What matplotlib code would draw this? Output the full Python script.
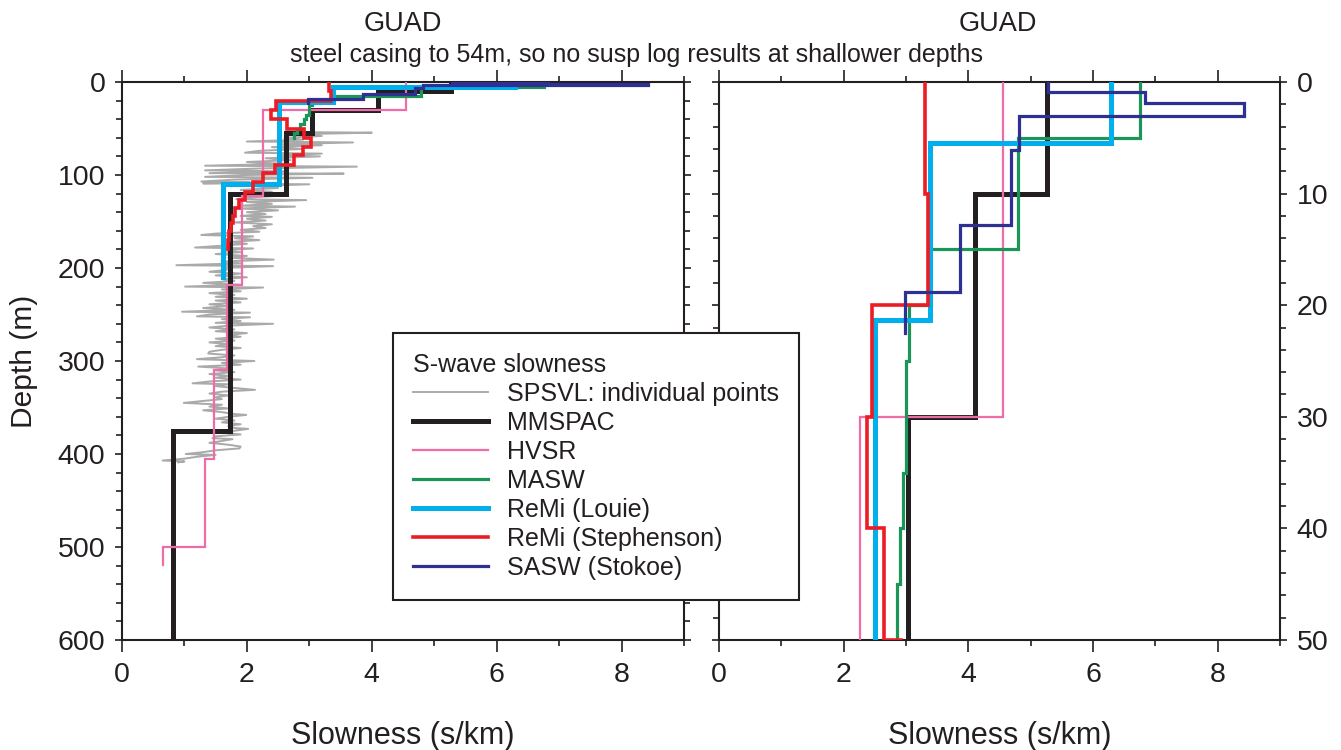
import matplotlib
matplotlib.use('Agg')
import matplotlib.pyplot as plt
from matplotlib.ticker import MultipleLocator

plt.rcParams['font.family'] = ['Liberation Sans', 'DejaVu Sans']

# layered profiles: layer top depths (m), slowness (s/km), bottom of last layer
mmspac_top = [0, 10, 30, 55, 120, 375]
mmspac_s = [5.27, 4.10, 3.04, 2.63, 1.73, 0.82]
mmspac_bot = 600

hvsr_top = [0, 30, 123, 218, 310, 405, 500]
hvsr_s = [4.55, 2.26, 1.92, 1.68, 1.48, 1.33, 0.66]
hvsr_bot = 519

masw_top = [0, 5, 15, 20, 25, 35, 40, 45, 50, 55]
masw_s = [6.76, 4.79, 3.36, 3.05, 3.00, 2.95, 2.91, 2.85, 2.80, 2.76]
masw_bot = 60

louie_top = [0, 5.5, 21.3, 110]
louie_s = [6.29, 3.38, 2.51, 1.62]
louie_bot = 210

steph_top = [0, 10, 20, 30, 40, 50, 60, 70, 79, 89, 98, 108, 118, 127, 136, 144, 152, 160, 170]
steph_s = [3.31, 3.35, 2.46, 2.38, 2.64, 2.92, 3.02, 2.90, 2.75, 2.45, 2.25, 2.09, 1.97,
           1.88, 1.81, 1.77, 1.74, 1.72, 1.70]
steph_bot = 180

sasw_top = [0, 0.9, 1.85, 3.04, 6.1, 12.8, 18.8]
sasw_s = [5.28, 6.83, 8.42, 4.82, 4.69, 3.86, 2.98]
sasw_bot = 22.5

# suspension log, individual points (depth m, slowness s/km)
gray_depth = [54, 54.5, 56, 58, 60, 62, 64, 65, 67, 68, 70, 72, 74, 76, 77, 79, 80, 82, 84, 86,
              88, 90, 91, 93, 95, 96, 98, 98.5, 100, 102, 103, 105, 107, 108, 109, 110, 112, 114,
              116, 118, 120, 122, 124, 126, 127, 129, 131, 133, 134, 136, 138, 140, 142, 144, 145,
              147, 149, 151, 153, 155, 157, 159, 161, 163, 164.5, 166, 168, 170, 172, 174, 176,
              178, 179, 181, 183, 185, 187, 189, 191, 193, 195, 197, 198, 200, 202, 204, 206, 208,
              210, 212, 214, 216, 218, 220, 221, 223, 225, 227, 229, 231, 233, 235, 237, 239, 241,
              243, 245, 247, 248, 250, 252, 253, 255, 257, 259, 260, 262, 264, 266, 268, 270, 272,
              274, 276, 278, 280, 282, 284, 286, 288, 290, 292, 294, 296, 298, 300, 302, 304, 306,
              308, 310, 312, 314, 316, 318, 320, 322, 324, 325, 327, 329, 331, 333, 335, 337, 339,
              341, 343, 345, 347, 349, 351, 353, 355, 357, 358, 360, 362, 364, 366, 368, 370, 372,
              373, 375, 377, 379, 381, 383, 384, 386, 388, 390, 392, 394, 396, 398, 400, 401, 403,
              405, 407, 408, 409]
gray_s = [3.05, 4.0, 2.9, 3.2, 2.6, 2.9, 2.0, 3.7, 2.5, 3.2, 2.4, 2.9, 2.2, 1.97, 3.2, 2.5, 3.17,
          2.3, 2.7, 2.0, 2.6, 1.33, 3.76, 2.2, 1.33, 2.6, 1.4, 3.55, 2.0, 1.33, 3.05, 1.8, 1.27,
          2.05, 1.3, 3.0, 2.1, 2.5, 1.9, 2.4, 2.0, 2.6, 2.1, 1.83, 2.95, 2.0, 2.4, 1.9, 2.77, 1.89,
          2.5, 2.0, 2.3, 1.9, 2.4, 2.0, 2.3, 1.8, 2.4, 2.1, 2.3, 1.9, 2.2, 1.5, 1.27, 2.1, 1.8, 2.2,
          1.7, 2.0, 1.6, 1.17, 2.1, 1.6, 1.9, 1.5, 2.0, 1.7, 2.43, 1.6, 1.9, 0.87, 2.42, 1.6, 1.68,
          1.4, 1.9, 1.5, 2.0, 1.6, 1.8, 1.3, 1.9, 1.01, 2.26, 1.6, 1.9, 1.4, 1.8, 1.5, 2.0, 1.5, 1.9,
          1.4, 1.7, 1.3, 1.8, 0.96, 2.05, 1.4, 1.2, 2.05, 1.6, 1.9, 1.5, 2.42, 1.7, 1.4, 1.8, 1.5,
          2.0, 1.7, 1.9, 1.5, 1.8, 1.4, 1.7, 1.5, 1.9, 1.6, 1.4, 1.38, 1.8, 1.6, 1.2, 2.12, 1.6, 1.9,
          1.22, 1.7, 1.5, 1.8, 1.4, 1.7, 1.5, 1.9, 1.4, 1.13, 1.7, 1.5, 1.8, 2.13, 1.6, 1.4, 1.7,
          1.5, 1.6, 1.3, 0.99, 1.6, 1.4, 1.7, 1.3, 1.6, 1.8, 1.99, 1.7, 1.5, 1.8, 1.6, 1.9, 1.7,
          1.8, 2.02, 1.8, 1.6, 1.9, 1.5, 1.45, 1.77, 1.6, 1.4, 1.7, 1.9, 1.88, 1.5, 1.3, 1.02, 1.5,
          1.2, 1.0, 0.65, 1.0, 0.9]

labels = ['SPSVL: individual points', 'MMSPAC', 'HVSR', 'MASW', 'ReMi (Louie)',
          'ReMi (Stephenson)', 'SASW (Stokoe)']
colors = ['#aaaaaa', '#231f20', '#f06ca8', '#1b9658', '#00b0ec', '#ed1c24', '#2e3192']
widths = [1.4, 3.6, 1.6, 2.3, 3.6, 2.6, 2.3]


def steps(tops, slow, bottom):
    bots = list(tops[1:]) + [bottom]
    x, y = [], []
    for t, b, s in zip(tops, bots, slow):
        x += [s, s]
        y += [t, b]
    return x, y


profiles = [(mmspac_top, mmspac_s, mmspac_bot), (hvsr_top, hvsr_s, hvsr_bot),
            (masw_top, masw_s, masw_bot), (louie_top, louie_s, louie_bot),
            (steph_top, steph_s, steph_bot), (sasw_top, sasw_s, sasw_bot)]

ink = '#231f20'
fig = plt.figure(figsize=(13.41, 7.5), dpi=100)
ax1 = fig.add_axes([122 / 1341, 110 / 750, 562 / 1341, 558 / 750])
ax2 = fig.add_axes([719 / 1341, 110 / 750, 561 / 1341, 558 / 750])

handles = []
for ax in (ax1, ax2):
    h, = ax.plot(gray_s, gray_depth, color=colors[0], lw=widths[0], zorder=2)
    hs = [h]
    for i, (tops, slow, bot) in enumerate(profiles):
        x, y = steps(tops, slow, bot)
        h, = ax.plot(x, y, color=colors[i + 1], lw=widths[i + 1], zorder=3 + i,
                     solid_joinstyle='miter')
        hs.append(h)
    if not handles:
        handles = hs
    ax.set_xlim(0, 9)
    ax.xaxis.set_major_locator(MultipleLocator(2))
    ax.xaxis.set_minor_locator(MultipleLocator(1))
    ax.tick_params(which='both', direction='out', top=True, right=True, width=1.2,
                   color=ink, labelsize=20.5, labelcolor=ink)
    ax.tick_params(axis='x', which='major', length=8.5, pad=7)
    ax.tick_params(axis='x', which='minor', length=4.5)
    ax.tick_params(axis='y', which='major', length=5, pad=7)
    ax.tick_params(axis='y', which='minor', length=4)
    for sp in ax.spines.values():
        sp.set_linewidth(1.5)
        sp.set_color(ink)
    ax.set_xlabel('Slowness (s/km)', fontsize=22, color=ink, labelpad=24)

ax1.set_ylim(600, 0)
ax1.yaxis.set_major_locator(MultipleLocator(100))
ax1.yaxis.set_minor_locator(MultipleLocator(20))
ax1.set_ylabel('Depth (m)', fontsize=21.5, color=ink, labelpad=14)

ax2.set_ylim(50, 0)
ax2.yaxis.set_major_locator(MultipleLocator(10))
ax2.yaxis.set_minor_locator(MultipleLocator(2))
ax2.tick_params(axis='y', labelleft=False, labelright=True)

fig.text(403 / 1341, 1 - 24 / 750, 'GUAD', ha='center', va='center', fontsize=19.5, color=ink)
fig.text(998 / 1341, 1 - 24 / 750, 'GUAD', ha='center', va='center', fontsize=19.5, color=ink)
fig.text(636 / 1341, 1 - 55 / 750, 'steel casing to 54m, so no susp log results at shallower depths',
         ha='center', va='center', fontsize=18, color=ink)

leg = fig.legend(handles, labels, title='S-wave slowness', loc='upper left',
                 bbox_to_anchor=(393 / 1341, 1 - 333 / 750), fontsize=18, title_fontsize=18,
                 frameon=True, fancybox=False, framealpha=1, edgecolor=ink,
                 handlelength=3.0, handletextpad=0.76, labelspacing=0.2, borderpad=0.8,
                 borderaxespad=0, alignment='left')
leg.get_frame().set_linewidth(1.5)
for t in leg.get_texts():
    t.set_color(ink)
leg.get_title().set_color(ink)

fig.savefig('out.png', dpi=100)
